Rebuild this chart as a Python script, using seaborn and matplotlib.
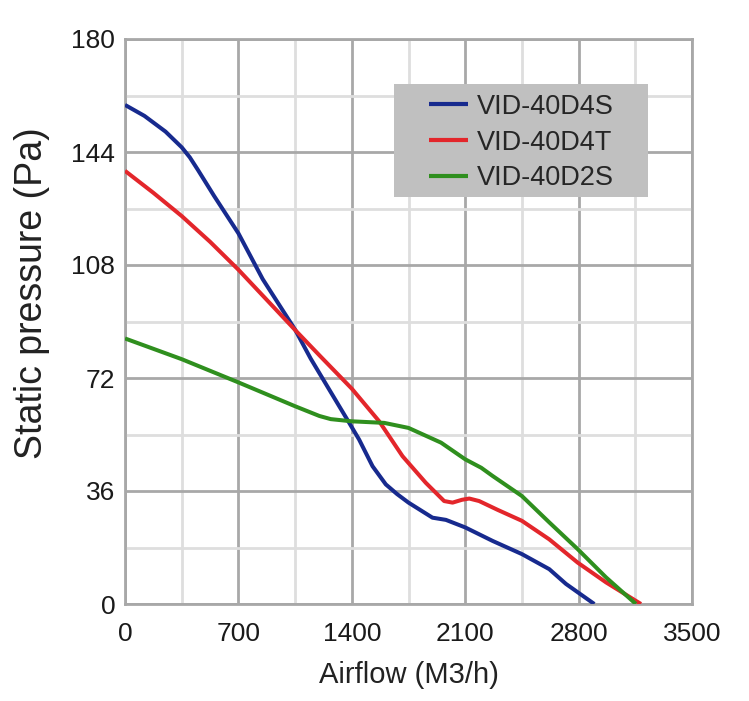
import numpy as np
import pandas as pd
import seaborn as sns
import matplotlib
matplotlib.use("Agg")
import matplotlib.pyplot as plt
from matplotlib.ticker import MultipleLocator
from matplotlib.patches import Rectangle

# ----------------------------------------------------------------------
# data
# ----------------------------------------------------------------------
models = ["VID-40D4S", "VID-40D4T", "VID-40D2S"]
colors = ["#172a8e", "#e3262b", "#2f8f1e"]

d4s_airflow = [0, 120, 250, 350, 400, 450, 550, 700, 850, 1050, 1146, 1269, 1383,
               1445, 1528, 1610, 1680, 1750, 1898, 1981, 2100, 2269, 2450, 2619,
               2722, 2897]
d4s_pressure = [159, 155.5, 150.5, 145.5, 142.3, 138.3, 130, 118.1, 103.5, 87.4, 78.2,
                67.6, 57.8, 52.4, 43.9, 38.1, 35, 32.3, 27.5, 26.8, 24.4, 20.1, 15.9,
                11.1, 6.4, 0]

d4t_airflow = [0, 175, 350, 525, 700, 875, 1050, 1208, 1400, 1569, 1713, 1857, 1970,
               2022, 2080, 2125, 2186, 2300, 2450, 2619, 2794, 2969, 3185]
d4t_pressure = [138, 131.0, 123.6, 115.4, 106.5, 96.9, 87.3, 78.8, 68.6, 58.2, 47.1,
                38.6, 32.8, 32.3, 33.2, 33.6, 32.8, 30, 26.5, 20.6, 13.2, 6.9, 0]

d2s_airflow = [0, 350, 700, 1050, 1200, 1270, 1400, 1600, 1750, 1951, 2100, 2199,
               2269, 2450, 2619, 2794, 2969, 3154]
d2s_pressure = [84.6, 78, 70.6, 63, 59.9, 58.9, 58.2, 57.7, 56.1, 51.4, 46.1, 43.4,
                40.8, 34.4, 26, 17.5, 8.5, 0]

x_ticks = [0, 700, 1400, 2100, 2800, 3500]
y_ticks = [0, 36, 72, 108, 144, 180]

# long table for seaborn
frames = []
for name, xs, ys in zip(models,
                        [d4s_airflow, d4t_airflow, d2s_airflow],
                        [d4s_pressure, d4t_pressure, d2s_pressure]):
    frames.append(pd.DataFrame({"airflow": xs, "pressure": ys, "model": name}))
df = pd.concat(frames, ignore_index=True)

# ----------------------------------------------------------------------
# style
# ----------------------------------------------------------------------
sns.set_style("white")
plt.rcParams["font.family"] = ["Liberation Sans", "DejaVu Sans"]

fig = plt.figure(figsize=(7.49, 7.01), dpi=100)
ax = fig.add_axes([125 / 749, 97 / 701, 567 / 749, 565 / 701])

sns.lineplot(data=df, x="airflow", y="pressure", hue="model",
             hue_order=models, palette=dict(zip(models, colors)),
             estimator=None, sort=False, linewidth=2.9, ax=ax, zorder=3)
for ln in ax.get_lines():
    ln.set_solid_joinstyle("round")
    ln.set_solid_capstyle("butt")

ax.set_xlim(0, 3500)
ax.set_ylim(0, 180)
ax.xaxis.set_minor_locator(MultipleLocator(350))
ax.yaxis.set_minor_locator(MultipleLocator(18))
ax.set_xticks(x_ticks)
ax.set_yticks(y_ticks)

ax.grid(which="major", color="#a8a8a8", linewidth=2)
ax.grid(which="minor", color="#dedede", linewidth=2)
ax.set_axisbelow(True)
for sp in ax.spines.values():
    sp.set_visible(True)
    sp.set_color("#a8a8a8")
    sp.set_linewidth(2)

ax.tick_params(axis="both", which="both", length=0, labelsize=19, labelcolor="#1a1a1a")
ax.tick_params(axis="x", pad=13)
ax.tick_params(axis="y", pad=7)

ax.set_xlabel("Airflow (M3/h)", fontsize=21, color="#222222", labelpad=11)
ax.set_ylabel("Static pressure (Pa)", fontsize=27, color="#222222")
ax.yaxis.set_label_coords(-0.132, 0.55)

# legend on a grey box
ax.add_patch(Rectangle((0.474, 0.720), 0.448, 0.200, transform=ax.transAxes,
                       facecolor="#c0c0c0", edgecolor="none", zorder=4))
leg = ax.legend(loc="upper left", bbox_to_anchor=(0.536, 0.903),
                frameon=False, fontsize=19.5, borderpad=0, borderaxespad=0,
                handlelength=1.45, handletextpad=0.33, labelspacing=0.36)
leg.set_zorder(5)
for line in leg.get_lines():
    line.set_linewidth(3)

fig.savefig("out.png", dpi=100)
